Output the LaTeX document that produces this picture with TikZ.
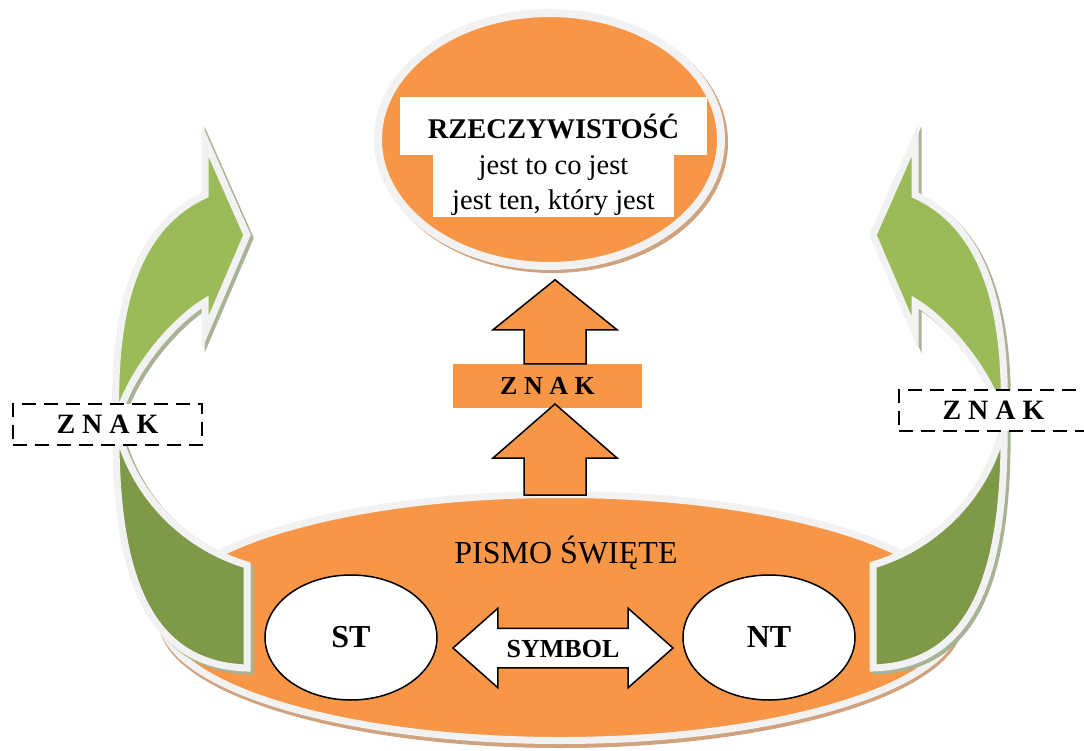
\documentclass[tikz,border=0pt]{standalone}
\usepackage{fontspec}
\setmainfont{Liberation Serif}
\usetikzlibrary{shapes.geometric,shapes.arrows,positioning}

\definecolor{ochre}{HTML}{F79646}
\definecolor{rim}{HTML}{F2F2F2}
\definecolor{leafgreen}{HTML}{9BBB59}
\definecolor{olivegreen}{HTML}{7E9A48}
\definecolor{greenshade}{HTML}{A8B396}
\definecolor{brownshade}{HTML}{D0A27E}

\newcommand{\upperband}{(116,423) .. controls (112,300) and (140,225) .. (205,195)
  -- (205,140) -- (247,235) -- (205,333) -- (205,302)
  .. controls (175,320) and (130,370) .. (116,423) -- cycle}
\newcommand{\lowerband}{(116,423) .. controls (114,580) and (150,665) .. (247,668)
  -- (247,565) .. controls (180,545) and (130,490) .. (116,423) -- cycle}

\begin{document}
\begin{tikzpicture}[x=1pt, y=-1pt, node distance=4cm,
  halo/.style={ellipse, inner sep=0pt, fill=brownshade},
  oval/.style={ellipse, inner sep=0pt, fill=ochre, draw=rim},
  textbox/.style={rectangle, fill=white, inner sep=0pt, align=center},
  blockarrow/.style={fill=ochre, draw=black, line width=1.5pt},
  band/.style={line width=7pt, draw=rim, miter limit=6},
  znakbox/.style={rectangle, draw=black, line width=2pt, dash pattern=on 14pt off 8pt,
    fill=white, minimum width=189pt, minimum height=41pt,
    font=\fontsize{28}{34}\selectfont\bfseries},
  testament/.style={ellipse, draw=black, line width=1.5pt, fill=white, inner sep=0pt,
    minimum width=172pt, minimum height=125pt, font=\fontsize{32}{38}\selectfont\bfseries}]
  \useasboundingbox (0,0) rectangle (1084,751);

  \node [halo, minimum width=804pt, minimum height=253pt] (pismoshade) at (561,621.5) {};
  \node [oval, line width=7pt, minimum width=797pt, minimum height=246pt] (pismo) at (560,617.5) {};
  \node [halo, minimum width=351pt, minimum height=261pt] (realshade) at (552.5,142.5) {};
  \node [oval, line width=8pt, minimum width=343pt, minimum height=253pt] (real) at (549.5,139.5) {};

  \node [textbox, minimum width=307pt, minimum height=58pt,
  font=\fontsize{28.5}{35}\selectfont\bfseries] (title) at (553.5,126) {RZECZYWISTOŚĆ};
  \node [textbox, below of=title, node distance=60pt, minimum width=241pt, minimum height=62pt,
  font=\fontsize{28.5}{35}\selectfont] (desc) {jest to co jest\\jest ten, który jest};

  \node [rectangle, fill=ochre, minimum width=189pt, minimum height=44pt,
  font=\fontsize{26}{31}\selectfont\bfseries] (zmid) at (547.5,386) {Z N A K};
  \draw [blockarrow] ([shift={(38.5,0)}]zmid.north) -- ++(0,-34) -- ++(31,0) -- ++(-62,-50)
  -- ++(-62,50) -- ++(31,0) -- ++(0,34) -- cycle;
  \draw [blockarrow] ([shift={(26,4)}]pismo.north) -- ++(0,-37) -- ++(31,0) -- ++(-62,-54)
  -- ++(-62,54) -- ++(31,0) -- ++(0,37) -- cycle;

  \foreach \side/\flip in {0/1, 1120/-1} {
    \begin{scope}[shift={(\side,0)}, xscale=\flip]
      \filldraw [band, draw=greenshade, fill=greenshade, shift={(3*\flip,3)}] \lowerband \upperband;
      \filldraw [band, fill=olivegreen] \lowerband;
      \filldraw [band, fill=leafgreen] \upperband;
    \end{scope}
  }

  \node [znakbox] (zleft) at (107.5,424) {Z N A K};
  \node [znakbox] (zright) at (993.5,410.5) {Z N A K};

  \node [font=\fontsize{32}{38}\selectfont, inner sep=0pt] (pismolabel) at (566,553) {PISMO ŚWIĘTE};
  \node [testament] (st) at (351,637.5) {ST};
  \node [testament, right of=st, node distance=418pt] (nt) {NT};
  \node [double arrow, draw=black, fill=white, line width=1.5pt, inner xsep=0pt, inner ysep=9.5pt,
  text height=19pt, text depth=0pt, minimum height=220pt, double arrow head extend=20pt,
  double arrow tip angle=83, font=\fontsize{26}{31}\selectfont\bfseries] (symbol) at (563,648) {SYMBOL};
\end{tikzpicture}
\end{document}
